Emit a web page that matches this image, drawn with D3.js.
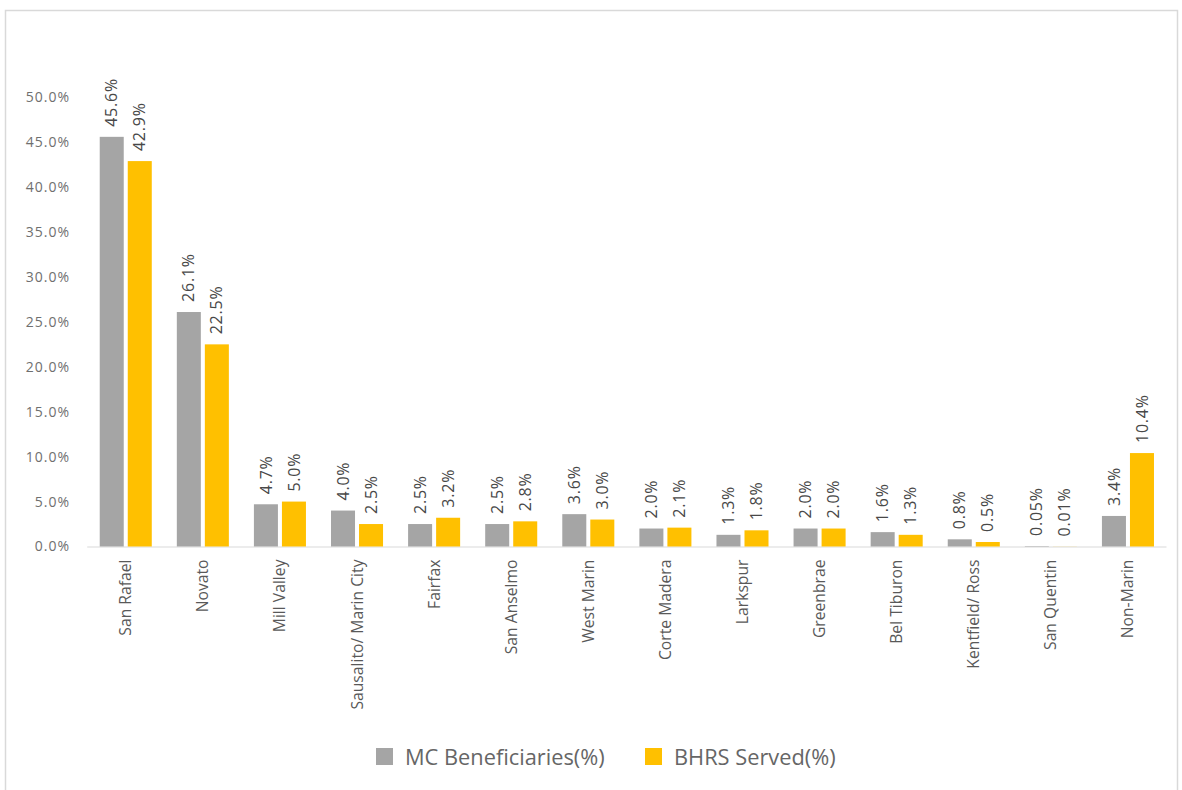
<!DOCTYPE html>
<html>
<head>
<meta charset="utf-8">
<script src="https://cdn.jsdelivr.net/npm/d3@7"></script>
<style>
  html, body { margin: 0; padding: 0; background: #fff; }
  svg { display: block; font-family: "Open Sans", "Liberation Sans", sans-serif; }
</style>
</head>
<body>
<svg id="chart" width="1182" height="790"></svg>
<script>
// Share of Medi-Cal beneficiaries vs. BHRS clients served, by region
const regions = [
  "San Rafael", "Novato", "Mill Valley", "Sausalito/ Marin City", "Fairfax",
  "San Anselmo", "West Marin", "Corte Madera", "Larkspur", "Greenbrae",
  "Bel Tiburon", "Kentfield/ Ross", "San Quentin", "Non-Marin"
];
const mcBeneficiaries = [45.6, 26.1, 4.7, 4.0, 2.5, 2.5, 3.6, 2.0, 1.3, 2.0, 1.6, 0.8, 0.05, 3.4];
const bhrsServed      = [42.9, 22.5, 5.0, 2.5, 3.2, 2.8, 3.0, 2.1, 1.8, 2.0, 1.3, 0.5, 0.01, 10.4];
const seriesNames = ["MC Beneficiaries(%)", "BHRS Served(%)"];
const seriesColors = ["#a5a5a5", "#ffc000"];
const yTicks = [0, 5, 10, 15, 20, 25, 30, 35, 40, 45, 50];

const svg = d3.select("#chart");

// outer frame
svg.append("rect")
  .attr("x", 5.5).attr("y", 10.5)
  .attr("width", 1172).attr("height", 790)
  .attr("fill", "none").attr("stroke", "#d9d9d9").attr("stroke-width", 1.5);

const x0 = d3.scaleBand()
  .domain(regions)
  .range([87.2, 1166.5])
  .paddingInner(0.325)
  .paddingOuter(0.1625);

const x1 = d3.scaleBand()
  .domain(seriesNames)
  .range([0, x0.bandwidth()])
  .paddingInner(0.143);

const y = d3.scaleLinear().domain([0, 50]).range([546.5, 97.3]);

// y axis labels (no line, no ticks)
const yAxis = d3.axisLeft(y)
  .tickValues(yTicks)
  .tickSize(0)
  .tickPadding(0)
  .tickFormat(d => d3.format(".1f")(d) + "%");
const gy = svg.append("g").attr("transform", "translate(70,0)").call(yAxis);
gy.select(".domain").remove();
gy.selectAll("text")
  .attr("fill", "#6f6f6f")
  .style("font-size", "14px")
  .style("letter-spacing", "1px")
  .style("font-family", "'Open Sans', sans-serif");

// baseline
svg.append("line")
  .attr("x1", 87.2).attr("x2", 1166.5)
  .attr("y1", y(0) + 0.5).attr("y2", y(0) + 0.5)
  .attr("stroke", "#d9d9d9").attr("stroke-width", 1.2);

const rows = regions.map((r, i) => ({
  region: r,
  values: [
    { key: seriesNames[0], v: mcBeneficiaries[i], color: seriesColors[0] },
    { key: seriesNames[1], v: bhrsServed[i], color: seriesColors[1] }
  ]
}));

const fmt = v => (v < 0.1 ? d3.format(".2f")(v) : d3.format(".1f")(v)) + "%";

const groups = svg.append("g").selectAll("g")
  .data(rows).join("g")
  .attr("transform", d => `translate(${x0(d.region)},0)`);

groups.selectAll("rect")
  .data(d => d.values).join("rect")
  .attr("x", d => x1(d.key))
  .attr("width", x1.bandwidth())
  .attr("y", d => y(d.v))
  .attr("height", d => y(0) - y(d.v))
  .attr("fill", d => d.color);

// rotated value labels above each bar
groups.selectAll("text.val")
  .data(d => d.values).join("text")
  .attr("class", "val")
  .attr("transform", d => `translate(${x1(d.key) + x1.bandwidth() / 2},${y(d.v) - 10}) rotate(-90)`)
  .attr("dy", "0.35em")
  .attr("text-anchor", "start")
  .attr("fill", "#484848")
  .style("font-size", "16px")
  .style("letter-spacing", "0.8px")
  .text(d => fmt(d.v));

// rotated category labels
const xAxis = d3.axisBottom(x0).tickSize(0).tickPadding(0);
const gx = svg.append("g").attr("transform", `translate(0,${y(0)})`).call(xAxis);
gx.select(".domain").remove();
gx.selectAll("text")
  .attr("transform", "translate(0,13) rotate(-90)")
  .attr("y", 0)
  .attr("dy", "0.35em")
  .attr("text-anchor", "end")
  .attr("fill", "#595959")
  .style("font-size", "15.7px")
  .style("font-family", "'Open Sans', sans-serif");

// legend
const legendX = [376, 645];
const legend = svg.append("g").selectAll("g")
  .data(seriesNames).join("g")
  .attr("transform", (d, i) => `translate(${legendX[i]},748)`);
legend.append("rect")
  .attr("width", 17).attr("height", 17)
  .attr("fill", (d, i) => seriesColors[i]);
legend.append("text")
  .attr("x", 29).attr("y", 17)
  .attr("fill", "#666666")
  .style("font-size", "21.8px")
  .text(d => d);
</script>
</body>
</html>
